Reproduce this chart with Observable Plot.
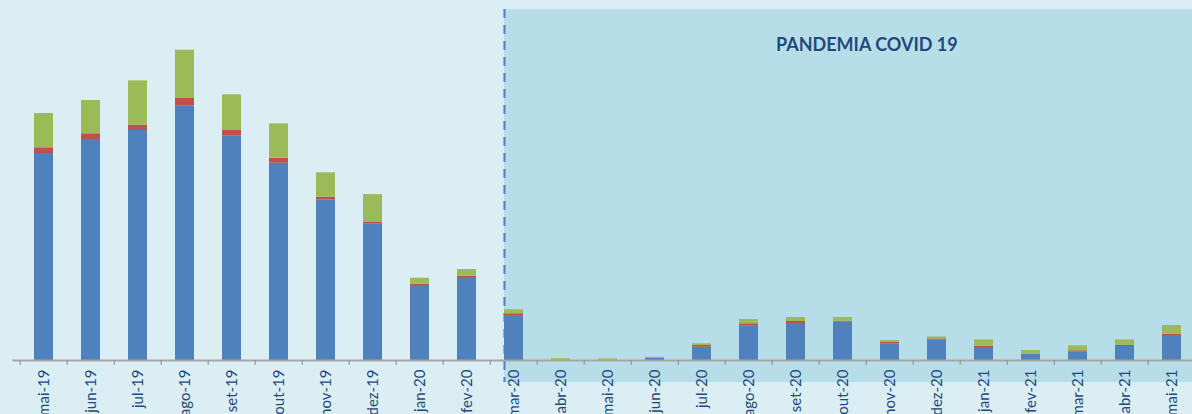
<!DOCTYPE html>
<html><head><meta charset="utf-8">
<script src="https://cdn.jsdelivr.net/npm/d3@7"></script>
<script src="https://cdn.jsdelivr.net/npm/@observablehq/plot@0.6"></script>
<style>
html,body{margin:0;padding:0;background:#daeef3;overflow:hidden;width:1192px;height:414px;}
</style></head><body><div id="chart"></div>
<script>
const months = ["mai-19","jun-19","jul-19","ago-19","set-19","out-19","nov-19","dez-19","jan-20","fev-20",
  "mar-20","abr-20","mai-20","jun-20","jul-20","ago-20","set-20","out-20","nov-20","dez-20",
  "jan-21","fev-21","mar-21","abr-21","mai-21"];
const serieAzul = [207,221,230,254.7,224.7,197.3,160.7,136.3,75,83,
  45,0.3,0.3,2.5,13.3,34.7,37,38.3,16.7,20.3,
  13,6,8.7,14,25];
const serieVermelha = [5.7,5.7,5.3,7.3,5.3,5,2.7,2.3,1.3,1.3,
  1.7,0,0,0,1.7,2,2,1,1.7,1.3,
  1.3,0.3,1,1.3,1.3];
const serieVerde = [34.3,33.3,44.3,48.3,35.7,34.3,24.3,27.3,6,6.7,
  4,1.5,1.3,0.7,1.7,4.3,4,3.7,1.7,2,
  6.3,3.7,5,5.3,8.7];
const seriesNames = ["Série 1","Série 2","Série 3"];
const seriesColors = ["#4f81bd","#c0504d","#9bbb59"];
const covidStart = "mar-20";
const covidLabel = "PANDEMIA COVID 19";
const yTop = 351;

const rows = months.flatMap((m, i) => [
  {month: m, series: seriesNames[0], value: serieAzul[i]},
  {month: m, series: seriesNames[1], value: serieVermelha[i]},
  {month: m, series: seriesNames[2], value: serieVerde[i]}
]);
const covidMonths = months.slice(months.indexOf(covidStart));
const covidMid = covidMonths[Math.floor(covidMonths.length / 2)];

const W = 1203, H = 414, mL = 12.3, mT = 9, mB = 54;
const step = (W - mL) / months.length;
const padInner = 0.6;
const bw = step * (1 - padInner);
const font = "Lato, 'Open Sans', sans-serif";

const chart = Plot.plot({
  width: W, height: H,
  marginLeft: mL, marginRight: 0, marginTop: mT, marginBottom: mB,
  style: {background: "#daeef3", maxWidth: "none", overflow: "visible"},
  x: {type: "band", domain: months, paddingInner: padInner, paddingOuter: padInner / 2, axis: null},
  y: {domain: [0, yTop], axis: null},
  color: {domain: seriesNames, range: seriesColors},
  marks: [
    Plot.barY(covidMonths, {x: d => d, y1: 0, y2: yTop, fill: "#b7dee8",
      insetBottom: -22, insetLeft: 0, insetRight: -(step - bw) - 1}),
    Plot.ruleX([covidStart], {x: d => d, dx: -bw / 2, stroke: "#4f81bd", strokeWidth: 2,
      strokeDasharray: "9,7", insetBottom: -22}),
    Plot.barY(rows, {x: "month", y: "value", fill: "series"}),
    Plot.ruleY([0], {stroke: "#a6a6a6", strokeWidth: 2}),
    Plot.ruleX(months, {x: d => d, dx: -step / 2, stroke: "#8c8c8c", strokeWidth: 1,
      insetTop: H - mB - mT, insetBottom: -5}),
    Plot.text(months, {x: d => d, y: 0, text: d => d, rotate: -90, textAnchor: "end",
      dy: 9, fontSize: 15, fontFamily: font, fill: "#1f497d"}),
    Plot.text([covidLabel], {x: () => covidMid, text: d => d, dx: step / 2, frameAnchor: "top",
      dy: 29, fontSize: 18, fontWeight: "bold", fontFamily: font, fill: "#1f497d"})
  ]
});
document.getElementById("chart").appendChild(chart);
</script>
</body></html>
